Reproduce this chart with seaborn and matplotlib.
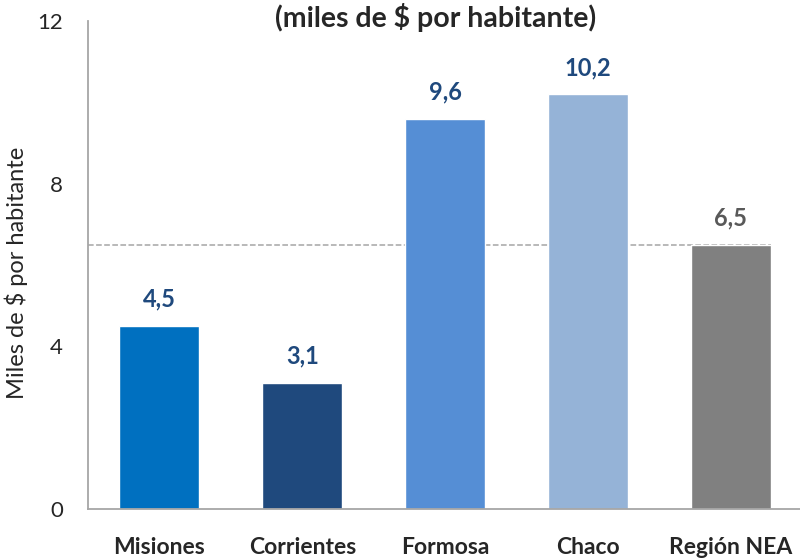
import matplotlib
matplotlib.use("Agg")
import matplotlib.pyplot as plt
import seaborn as sns
import pandas as pd

# -------------------
# DATA
# -------------------
regiones = ["Misiones", "Corrientes", "Formosa", "Chaco", "Región NEA"]
valores = [4.5, 3.1, 9.6, 10.2, 6.5]
etiquetas = ["4,5", "3,1", "9,6", "10,2", "6,5"]
colores = ["#0070C0", "#1F497D", "#558ED5", "#95B3D7", "#808080"]
color_etiq = ["#1F497D", "#1F497D", "#1F497D", "#1F497D", "#595959"]
promedio_nea = 6.5
y_ticks = [0, 4, 8, 12]

df = pd.DataFrame({"region": regiones, "valor": valores})

sns.set_style("white")
plt.rcParams["font.family"] = ["Lato", "DejaVu Sans"]

fig = plt.figure(figsize=(8, 5.58), dpi=100)
ax = fig.add_axes([0.11, 0.088, 0.893, 0.874])

sns.barplot(data=df, x="region", y="valor", hue="region",
            palette=colores, width=0.56, legend=False, ax=ax,
            saturation=1)

# linea de promedio NEA
ax.plot([-0.5, 4.28], [promedio_nea, promedio_nea], ls="--",
        color="#A6A6A6", lw=1.1, zorder=0.5)

# etiquetas de valores
for i, (v, lab) in enumerate(zip(valores, etiquetas)):
    ax.annotate(lab, (i, v), xytext=(0, 11), textcoords="offset points",
                ha="center", va="bottom", fontsize=17, fontweight="bold",
                color=color_etiq[i])

ax.set_xlim(-0.5, 4.5)
ax.set_ylim(0, 12)
ax.set_yticks(y_ticks)
ax.set_yticklabels([str(t) for t in y_ticks], fontsize=16)
ax.set_xlabel("")
ax.set_ylabel("Miles de $ por habitante", fontsize=17)
ax.yaxis.set_label_coords(-0.084, 0.484)

# ticks del eje x en los limites de categoria
ax.set_xticks([-0.5, 0.5, 1.5, 2.5, 3.5])
ax.set_xticklabels([])
ax.set_xticks(range(len(regiones)), minor=True)
ax.set_xticklabels(regiones, minor=True, fontsize=16.5, fontweight="bold")
ax.tick_params(axis="x", which="major", length=8, width=1, color="#A6A6A6",
               direction="out")
ax.tick_params(axis="x", which="minor", length=0, pad=20)
ax.tick_params(axis="y", length=7, width=1, color="#A6A6A6", direction="out",
               pad=11)

for s in ["top", "right"]:
    ax.spines[s].set_visible(False)
for s in ["left", "bottom"]:
    ax.spines[s].set_color("#A6A6A6")
    ax.spines[s].set_linewidth(1.3)

fig.text(0.545, 0.968, "(miles de $ por habitante)", ha="center", va="center",
         fontsize=20.5, fontweight="bold")

fig.savefig("out.png", dpi=100)
